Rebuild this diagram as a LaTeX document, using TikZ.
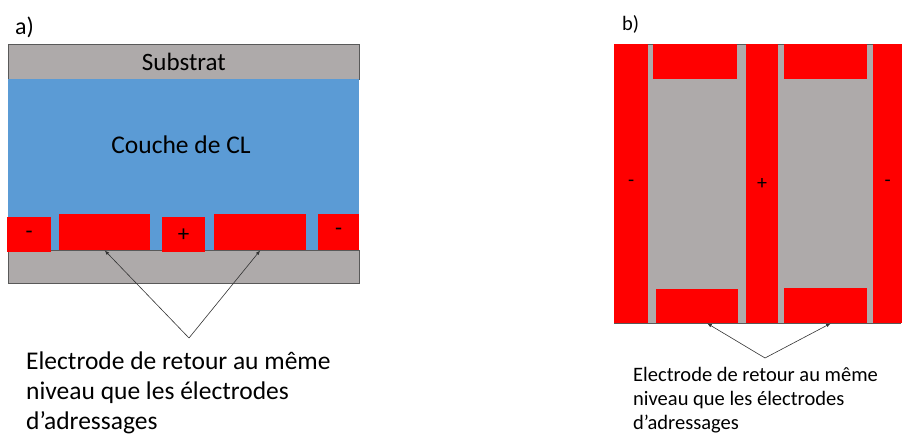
\documentclass[tikz,border=0pt]{standalone}
\usepackage{fontspec}
\setmainfont{Carlito}
\usetikzlibrary{arrows}
\usetikzlibrary{positioning}
\definecolor{substratgray}{HTML}{AEAAAA}
\definecolor{clblue}{HTML}{5B9BD5}
\definecolor{edgegray}{HTML}{595959}
\tikzstyle{layer} = [rectangle, anchor=north west, inner sep=0pt, draw=edgegray, fill=substratgray, line width=0.8pt]
\tikzstyle{lc} = [layer, fill=clblue, draw=none]
\tikzstyle{elec} = [rectangle, anchor=north west, inner sep=0pt, fill=red, draw=none, font=\fontsize{23}{25}\selectfont]
\tikzstyle{arrow} = [->, >=latex, line width=0.6pt, draw=black!80]

\begin{document}
\begin{tikzpicture}[x=1pt, y=-1pt]
\useasboundingbox (0,0) rectangle (902,435);

% ===== a) cross-section (left side) =====

% Label
\node (labela) [anchor=west, inner sep=0pt, font=\fontsize{24}{26}\selectfont] at (15,27) {a)};

% Substrat
\node (substrat) [layer, minimum width=351pt, minimum height=35pt, font=\fontsize{25}{27}\selectfont] at (8,44) {Substrat};

% LC layer
\node (couche) [lc, minimum width=351pt, minimum height=171pt] at (8,79) {};
\node (couchetxt) [font=\fontsize{25.5}{27}\selectfont] at (181,145) {Couche de CL};

% Bottom substrate
\node (bas) [layer, minimum width=351pt, minimum height=33pt] at (8,250) {};

% Electrodes
\node (ea1) [elec, minimum width=44pt, minimum height=35pt] at (7,217) {-};
\node (ea2) [elec, minimum width=91pt, minimum height=36pt] at (59,214) {};
\node (ea3) [elec, minimum width=43pt, minimum height=35pt] at (162,217) {+};
\node (ea4) [elec, minimum width=92pt, minimum height=36pt] at (214,214) {};
\node (ea5) [elec, minimum width=41pt, minimum height=36pt] at (318,214) {-};

% Caption
\node (capa) [anchor=north west, align=left, inner sep=0pt, font=\fontsize{25.5}{30}\selectfont] at (26,352) {Electrode de retour au même\\niveau que les électrodes\\d’adressages};
\coordinate (apexa) at (189,338);

\draw [arrow] (apexa) -- (ea2.south);
\draw [arrow] (apexa) -- (ea4.south);

% ===== b) top view (right side) =====

% Label
\node (labelb) [anchor=west, inner sep=0pt, font=\fontsize{20.5}{22}\selectfont] at (622,24) {b)};

% Substrate
\node (fond) [layer, minimum width=286pt, minimum height=279pt] at (614,44) {};

% Strips
\node (sb1) [elec, font=\fontsize{20}{22}\selectfont, minimum width=34pt, minimum height=279pt] at (614,44) {-};
\node (sb2) [elec, font=\fontsize{20}{22}\selectfont, minimum width=32pt, minimum height=279pt] at (746,44) {+};
\node (sb3) [elec, font=\fontsize{20}{22}\selectfont, minimum width=29pt, minimum height=279pt] at (873,44) {-};

% Pads
\node (pb1) [elec, minimum width=84pt, minimum height=35pt] at (653,44) {};
\node (pb2) [elec, minimum width=83pt, minimum height=35pt] at (784,44) {};
\node (pb3) [elec, minimum width=82pt, minimum height=34pt] at (656,289) {};
\node (pb4) [elec, minimum width=83pt, minimum height=35pt] at (784,288) {};

% Caption
\node (capb) [anchor=north west, align=left, inner sep=0pt, font=\fontsize{20.5}{24}\selectfont] at (633,367) {Electrode de retour au même\\niveau que les électrodes\\d’adressages};
\coordinate (apexb) at (765,358);

\draw [arrow] (apexb) -- ([xshift=10pt]pb3.south);
\draw [arrow] (apexb) -- ([xshift=5pt]pb4.south);

\end{tikzpicture}
\end{document}
